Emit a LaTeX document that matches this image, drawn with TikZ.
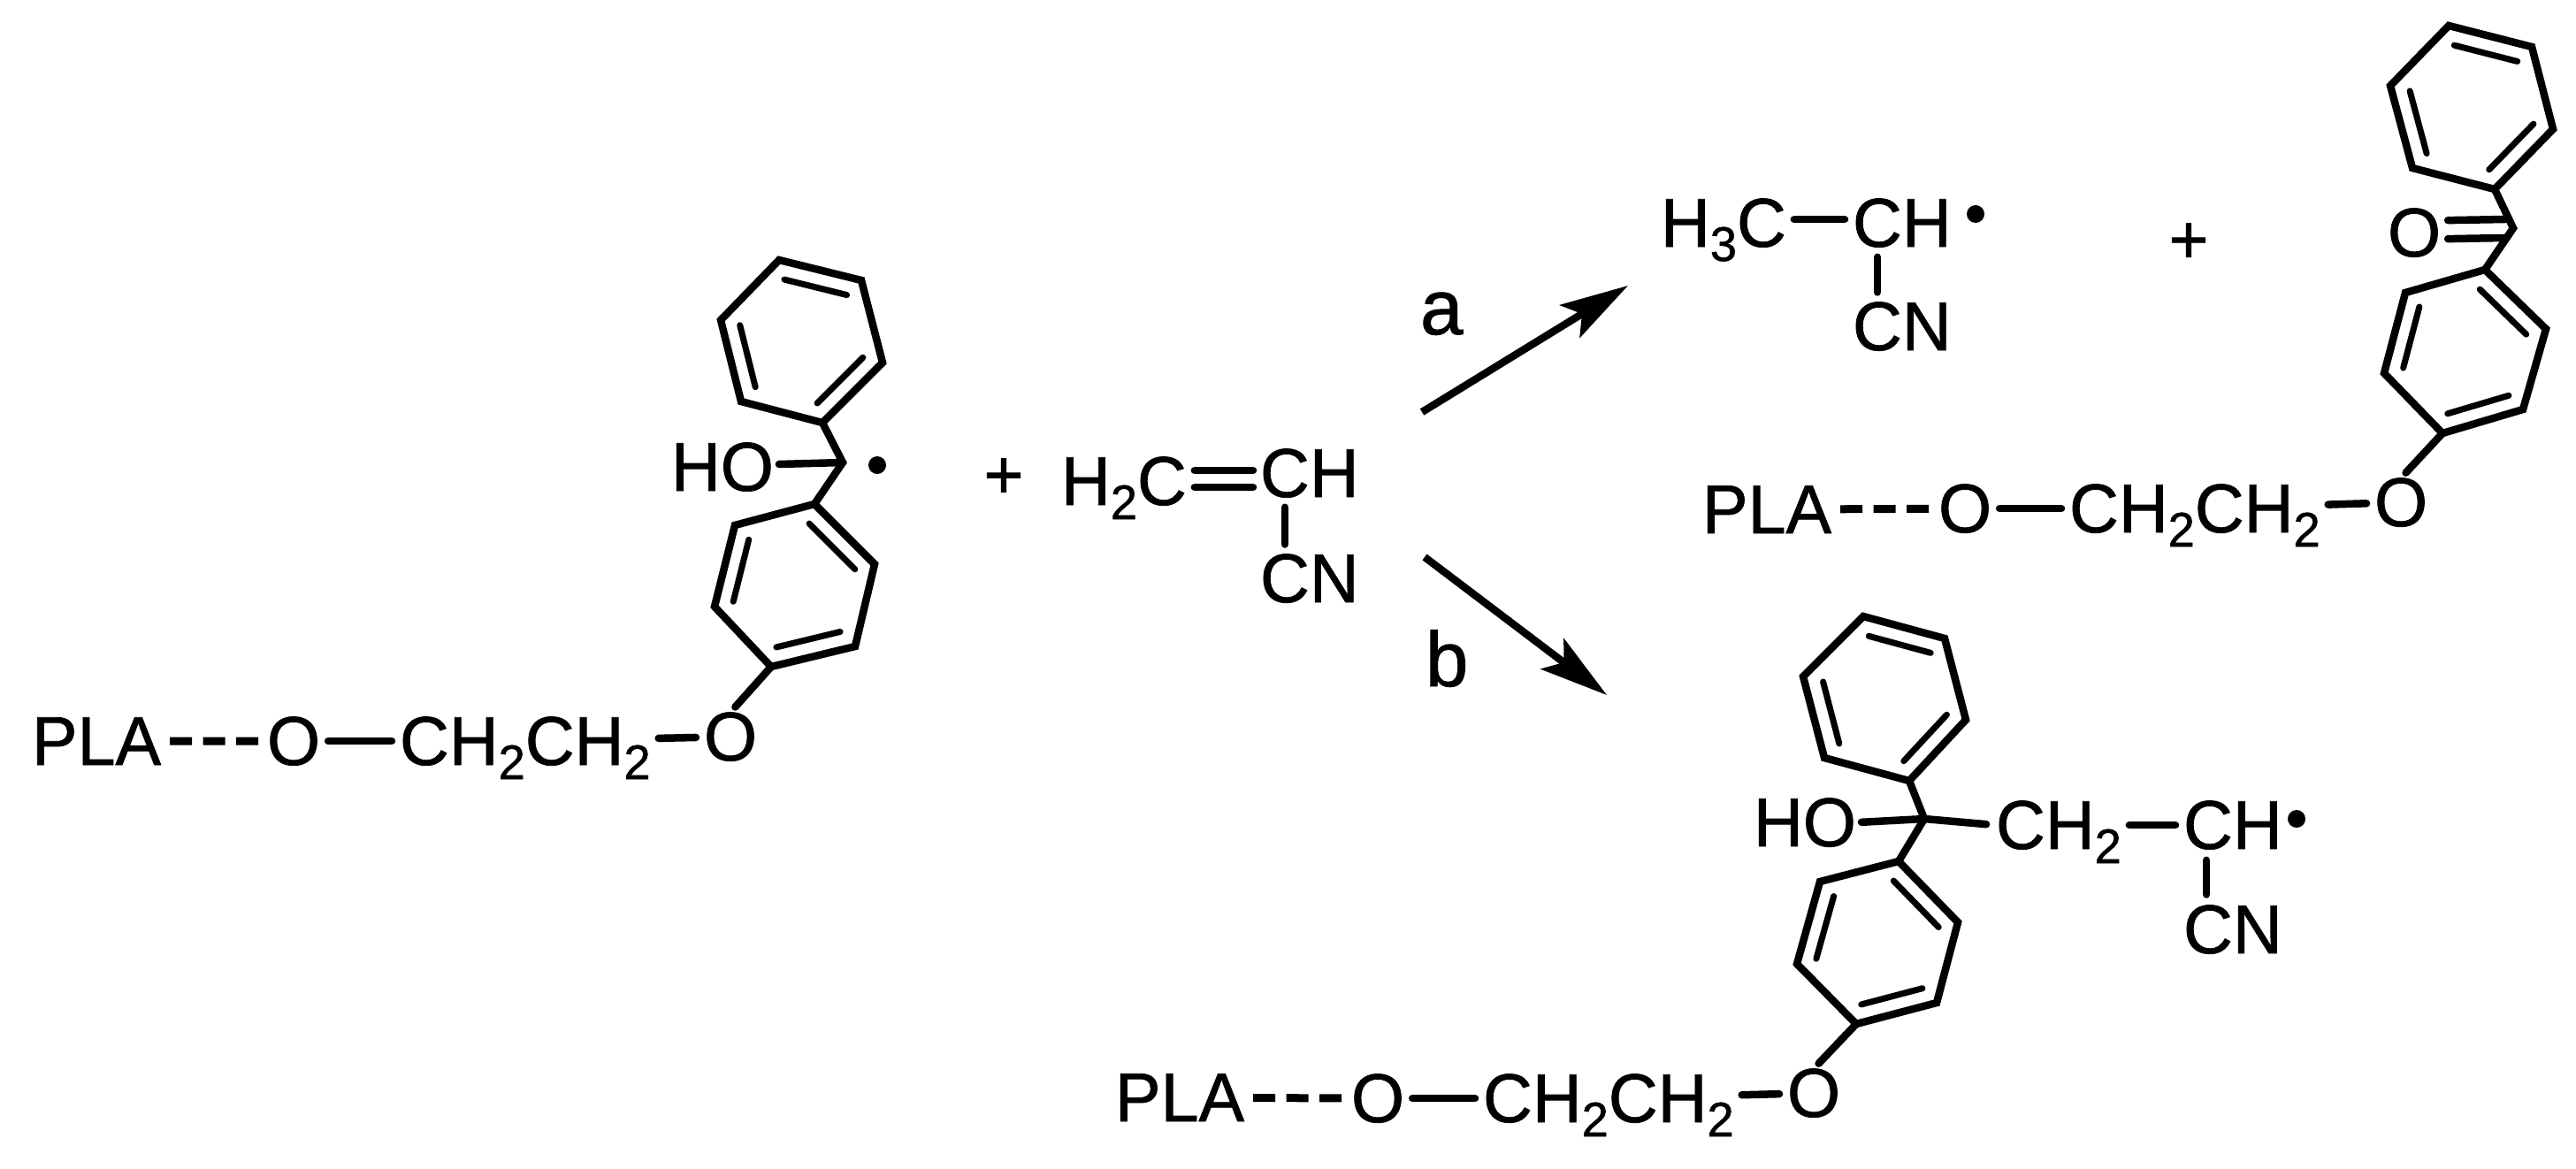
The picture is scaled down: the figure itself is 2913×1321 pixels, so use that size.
\documentclass[tikz,border=0pt]{standalone}
\usepackage{fontspec}
\setmainfont[FakeBold=1,FakeStretch=.99]{Liberation Sans}
\usetikzlibrary{calc,arrows.meta}
\newcommand{\lowidx}[1]{\raisebox{-.16cm}[0pt][0pt]{\fontsize{15.6}{17}\selectfont #1}}
% ring corners a..f, double bonds on a-b, c-d, e-f
\newcommand{\benzring}[7]{%
  \coordinate (#1a) at (#2);
  \coordinate (#1b) at (#3);
  \coordinate (#1c) at (#4);
  \coordinate (#1d) at (#5);
  \coordinate (#1e) at (#6);
  \coordinate (#1f) at (#7);
  \coordinate (#1m) at ($(#1a)!.5!(#1d)$);
  \draw[bond,line cap=butt] (#1a) -- (#1b) -- (#1c) -- (#1d) -- (#1e) -- (#1f) -- cycle;
  \foreach \p/\q in {a/b,c/d,e/f}
    \draw[innerbond] ($(#1m)!.76!(#1\p)$) -- ($(#1m)!.76!(#1\q)$);
}
\begin{document}
\begin{tikzpicture}[x=.01cm,y=-.01cm,
    chem/.style={inner sep=0,outer sep=0,anchor=base west,font=\fontsize{22.2}{24}\selectfont},
    tag/.style={chem,font=\fontsize{25}{27}\selectfont},
    bond/.style={line width=.085cm,line cap=round},
    innerbond/.style={line width=.07cm,line cap=round},
    link/.style={bond,shorten <=.09cm,shorten >=.09cm},
    dashlink/.style={line width=.09cm,dash pattern=on .25cm off .125cm,shorten <=.1cm,shorten >=.09cm},
    radical/.style={circle,fill,inner sep=0,minimum size=.2cm},
    rxnarrow/.style={line width=.085cm,-{Stealth[length=.77cm,width=.43cm,inset=.16cm]}}]
  \useasboundingbox (0,0) rectangle (2913,1321);

  % starting radical
  \benzring{p}{881,294}{974,317}{998,410}{930,478}{838,454}{815,362}
  \benzring{q}{921,570}{989,638}{967,731}{872,754}{808,686}{831,594}
  \coordinate (c1) at (953,523);
  \node[chem] (ho1) at (759,555) {HO};
  \node[radical] (dot1) at (992,526) {};
  \node[chem] (pla1) at (36,865) {PLA};
  \node[chem] (oa1) at (302,865) {O};
  \node[chem] (eth1) at (452,865) {CH\lowidx{2}CH\lowidx{2}};
  \node[chem] (ob1) at (796,860) {O};
  \draw[bond] (pd) -- (c1) -- (qa);
  \draw[bond,shorten <=.06cm] ([yshift=.03cm]ho1.east) -- (c1);
  \draw[bond,shorten >=.08cm] (qd) -- (ob1.north);
  \draw[dashlink] (pla1) -- (oa1);
  \draw[link] (oa1) -- (eth1);
  \draw[link] (eth1) -- (ob1);

  % acrylonitrile
  \node[chem,anchor=center] (plus1) at (1135,541) {+};
  \node[chem] (h2c) at (1200,571) {H\lowidx{2}C};
  \node[chem] (ch2) at (1425,562) {CH};
  \node[chem] (cn2) at (1425,681) {CN};
  \draw[bond] ([shift={(9,-12)}]h2c.east) -- ([shift={(-8,-3)}]ch2.west);
  \draw[bond] ([shift={(9,7)}]h2c.east) -- ([shift={(-8,16)}]ch2.west);
  \draw[bond] ([shift={(28,11)}]ch2.south west) -- ([shift={(28,-11)}]cn2.north west);

  % arrows
  \coordinate (a0) at (1608,466);
  \coordinate (a1) at (1841,323);
  \coordinate (b0) at (1611,630);
  \coordinate (b1) at (1817,786);
  \draw[rxnarrow] (a0) -- (a1);
  \draw[rxnarrow] (b0) -- (b1);
  \node[tag] (laba) at (1606,378) {a};
  \node[tag] (labb) at (1612,776) {b};

  % path a
  \node[chem] (h3c) at (1878,279) {H\lowidx{3}C};
  \node[chem] (ch3) at (2095,279) {CH};
  \node[chem] (cn3) at (2095,396) {CN};
  \node[radical] (dot3) at (2234,242) {};
  \node[chem,anchor=center] (plus3) at (2475,275) {+};
  \draw[link] ([yshift=.04cm]h3c.east) -- ([yshift=.04cm]ch3.west);
  \draw[bond] ([shift={(28,11)}]ch3.south west) -- ([shift={(28,-11)}]cn3.north west);
  \benzring{r}{2769,29}{2863,53}{2887,146}{2821,214}{2728,190}{2703,97}
  \benzring{s}{2810,305}{2879,372}{2853,463}{2762,490}{2696,422}{2720,331}
  \coordinate (c3) at (2842,258);
  \coordinate (co3a) at (2833,248);
  \coordinate (co3b) at (2833,269);
  \node[chem] (ox3) at (2700,290) {O};
  \draw[bond] (rd) -- (c3) -- (sa);
  \draw[bond] ([shift={(8,-14)}]ox3.east) -- (co3a);
  \draw[bond] ([shift={(8,7)}]ox3.east) -- (co3b);
  \node[chem] (pla3) at (1925,603) {PLA};
  \node[chem] (oa3) at (2192,602) {O};
  \node[chem] (eth3) at (2340,602) {CH\lowidx{2}CH\lowidx{2}};
  \node[chem] (ob3) at (2685,595) {O};
  \draw[bond,shorten >=.08cm] (sd) -- (ob3.north);
  \draw[dashlink] (pla3) -- (oa3);
  \draw[link] (oa3) -- (eth3);
  \draw[link] (eth3) -- (ob3);

  % path b
  \benzring{u}{2107,697}{2199,722}{2223,814}{2159,883}{2063,857}{2039,765}
  \benzring{v}{2147,974}{2214,1043}{2190,1134}{2099,1158}{2032,1090}{2058,997}
  \coordinate (c4) at (2176,926);
  \node[chem] (ho4) at (1983,957) {HO};
  \node[chem] (ch4) at (2257,960) {CH\lowidx{2}};
  \node[chem] (chb4) at (2469,960) {CH};
  \node[chem] (cn4) at (2469,1078) {CN};
  \node[radical] (dot4) at (2597,926) {};
  \draw[bond] (ud) -- (c4) -- (va);
  \draw[bond,shorten <=.06cm] (ho4.east) -- (c4);
  \draw[bond,shorten >=.11cm] (c4) -- (ch4.west);
  \draw[link] (ch4) -- (chb4);
  \draw[bond] ([shift={(26,12)}]chb4.south west) -- ([shift={(26,-12)}]cn4.north west);
  \node[chem] (pla4) at (1261,1268) {PLA};
  \node[chem] (oa4) at (1528,1269) {O};
  \node[chem] (eth4) at (1677,1269) {CH\lowidx{2}CH\lowidx{2}};
  \node[chem] (ob4) at (2021,1263) {O};
  \draw[bond,shorten >=.08cm] (vd) -- (ob4.north);
  \draw[dashlink] (pla4) -- (oa4);
  \draw[link] (oa4) -- (eth4);
  \draw[link] (eth4) -- (ob4);
\end{tikzpicture}
\end{document}
